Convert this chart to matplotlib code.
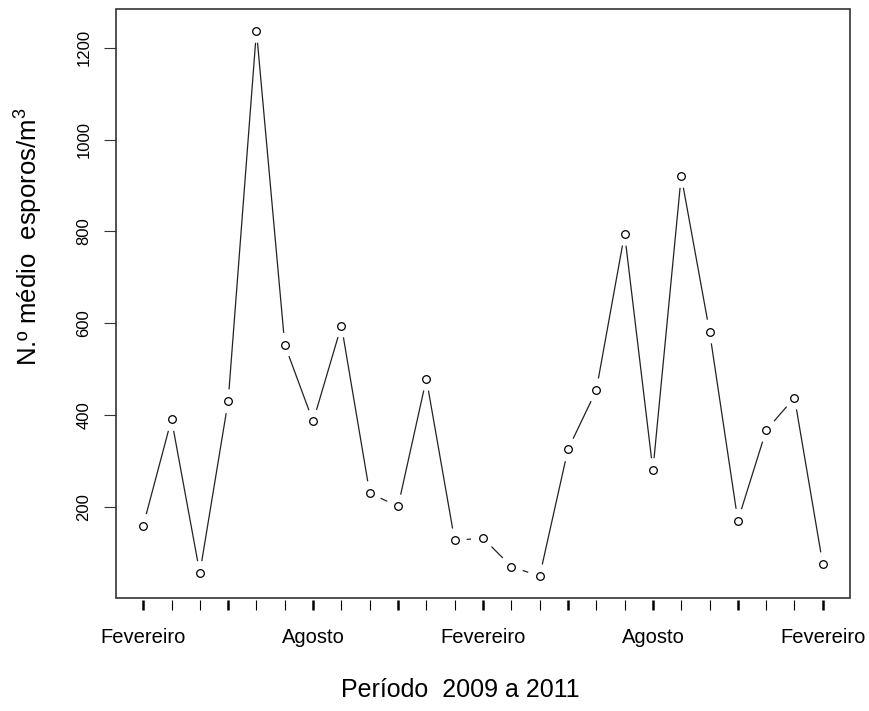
import matplotlib
matplotlib.use("Agg")
import matplotlib.pyplot as plt
import numpy as np
from matplotlib.patches import Rectangle

plt.rcParams['font.family'] = ['Liberation Sans', 'DejaVu Sans']
plt.rcParams['mathtext.fontset'] = 'custom'
plt.rcParams['mathtext.rm'] = 'Liberation Sans'

# Monthly mean spore counts, Feb 2009 - Feb 2011
months = np.arange(1, 26)
esporos = [159, 391, 56, 430, 1237, 553, 386, 595, 230, 201, 479, 127, 132,
           70, 49, 325, 454, 795, 280, 921, 582, 170, 367, 438, 75]
label_pos = [1, 7, 13, 19, 25]
label_txt = ["Fevereiro", "Agosto", "Fevereiro", "Agosto", "Fevereiro"]
y_ticks = [200, 400, 600, 800, 1000, 1200]

W, H = 869, 711
fig = plt.figure(figsize=(W / 100, H / 100), dpi=100)
ax = fig.add_axes([116 / W, 1 - 598 / H, (850 - 116) / W, (598 - 9) / H])

# R-like 4% padding
x = np.array(months, dtype=float)
y = np.array(esporos, dtype=float)
xr = x.max() - x.min()
yr = y.max() - y.min()
ax.set_xlim(x.min() - 0.04 * xr, x.max() + 0.04 * xr)
ax.set_ylim(y.min() - 0.04 * yr, y.max() + 0.04 * yr)

# points
ax.plot(x, y, linestyle='none', marker='o', markersize=5.5,
        markerfacecolor='white', markeredgecolor='black', markeredgewidth=0.9,
        zorder=3)

# lines with gaps around points (type = "b")
gap = 12.0  # pixels
pts = ax.transData.transform(np.column_stack([x, y]))
inv = ax.transData.inverted()
for i in range(len(pts) - 1):
    p0, p1 = pts[i], pts[i + 1]
    d = p1 - p0
    L = np.hypot(*d)
    if L <= 2 * gap:
        continue
    u = d / L
    a = inv.transform(p0 + u * gap)
    b = inv.transform(p1 - u * gap)
    ax.plot([a[0], b[0]], [a[1], b[1]], color='#222222', lw=0.9,
            solid_capstyle='butt')

# box and axes
for s in ax.spines.values():
    s.set_visible(False)
ax.spines['bottom'].set_position(('outward', 1.2))
ax.add_patch(Rectangle((0, 0), 1, 1, transform=ax.transAxes, fill=False,
                       edgecolor='#333333', lw=1.2, clip_on=False, zorder=4))

ax.set_xticks(months)
ax.set_xticklabels([label_txt[label_pos.index(m)] if m in label_pos else ""
                    for m in months], fontsize=14.5)
ax.tick_params(axis='x', length=7.5, width=0.8, pad=13, color='black')
for m, t in zip(months, ax.xaxis.get_major_ticks()):
    if (m - 1) % 3 == 0:
        t.tick1line.set_markeredgewidth(1.8)

ax.set_yticks(y_ticks)
ax.set_yticklabels([str(v) for v in y_ticks], fontsize=12, rotation=90,
                   va='center')
ax.tick_params(axis='y', length=8.6, width=0.8, pad=9, color='#333333')

fig.text(28 / W, 1 - 237 / H, "N.º médio  esporos/m$^3$", rotation=90,
         ha='center', va='center', fontsize=18.5)
fig.text(460 / W, 1 - 690 / H, "Período  2009 a 2011", ha='center',
         va='center', fontsize=18)

fig.savefig("out.png", dpi=100)
